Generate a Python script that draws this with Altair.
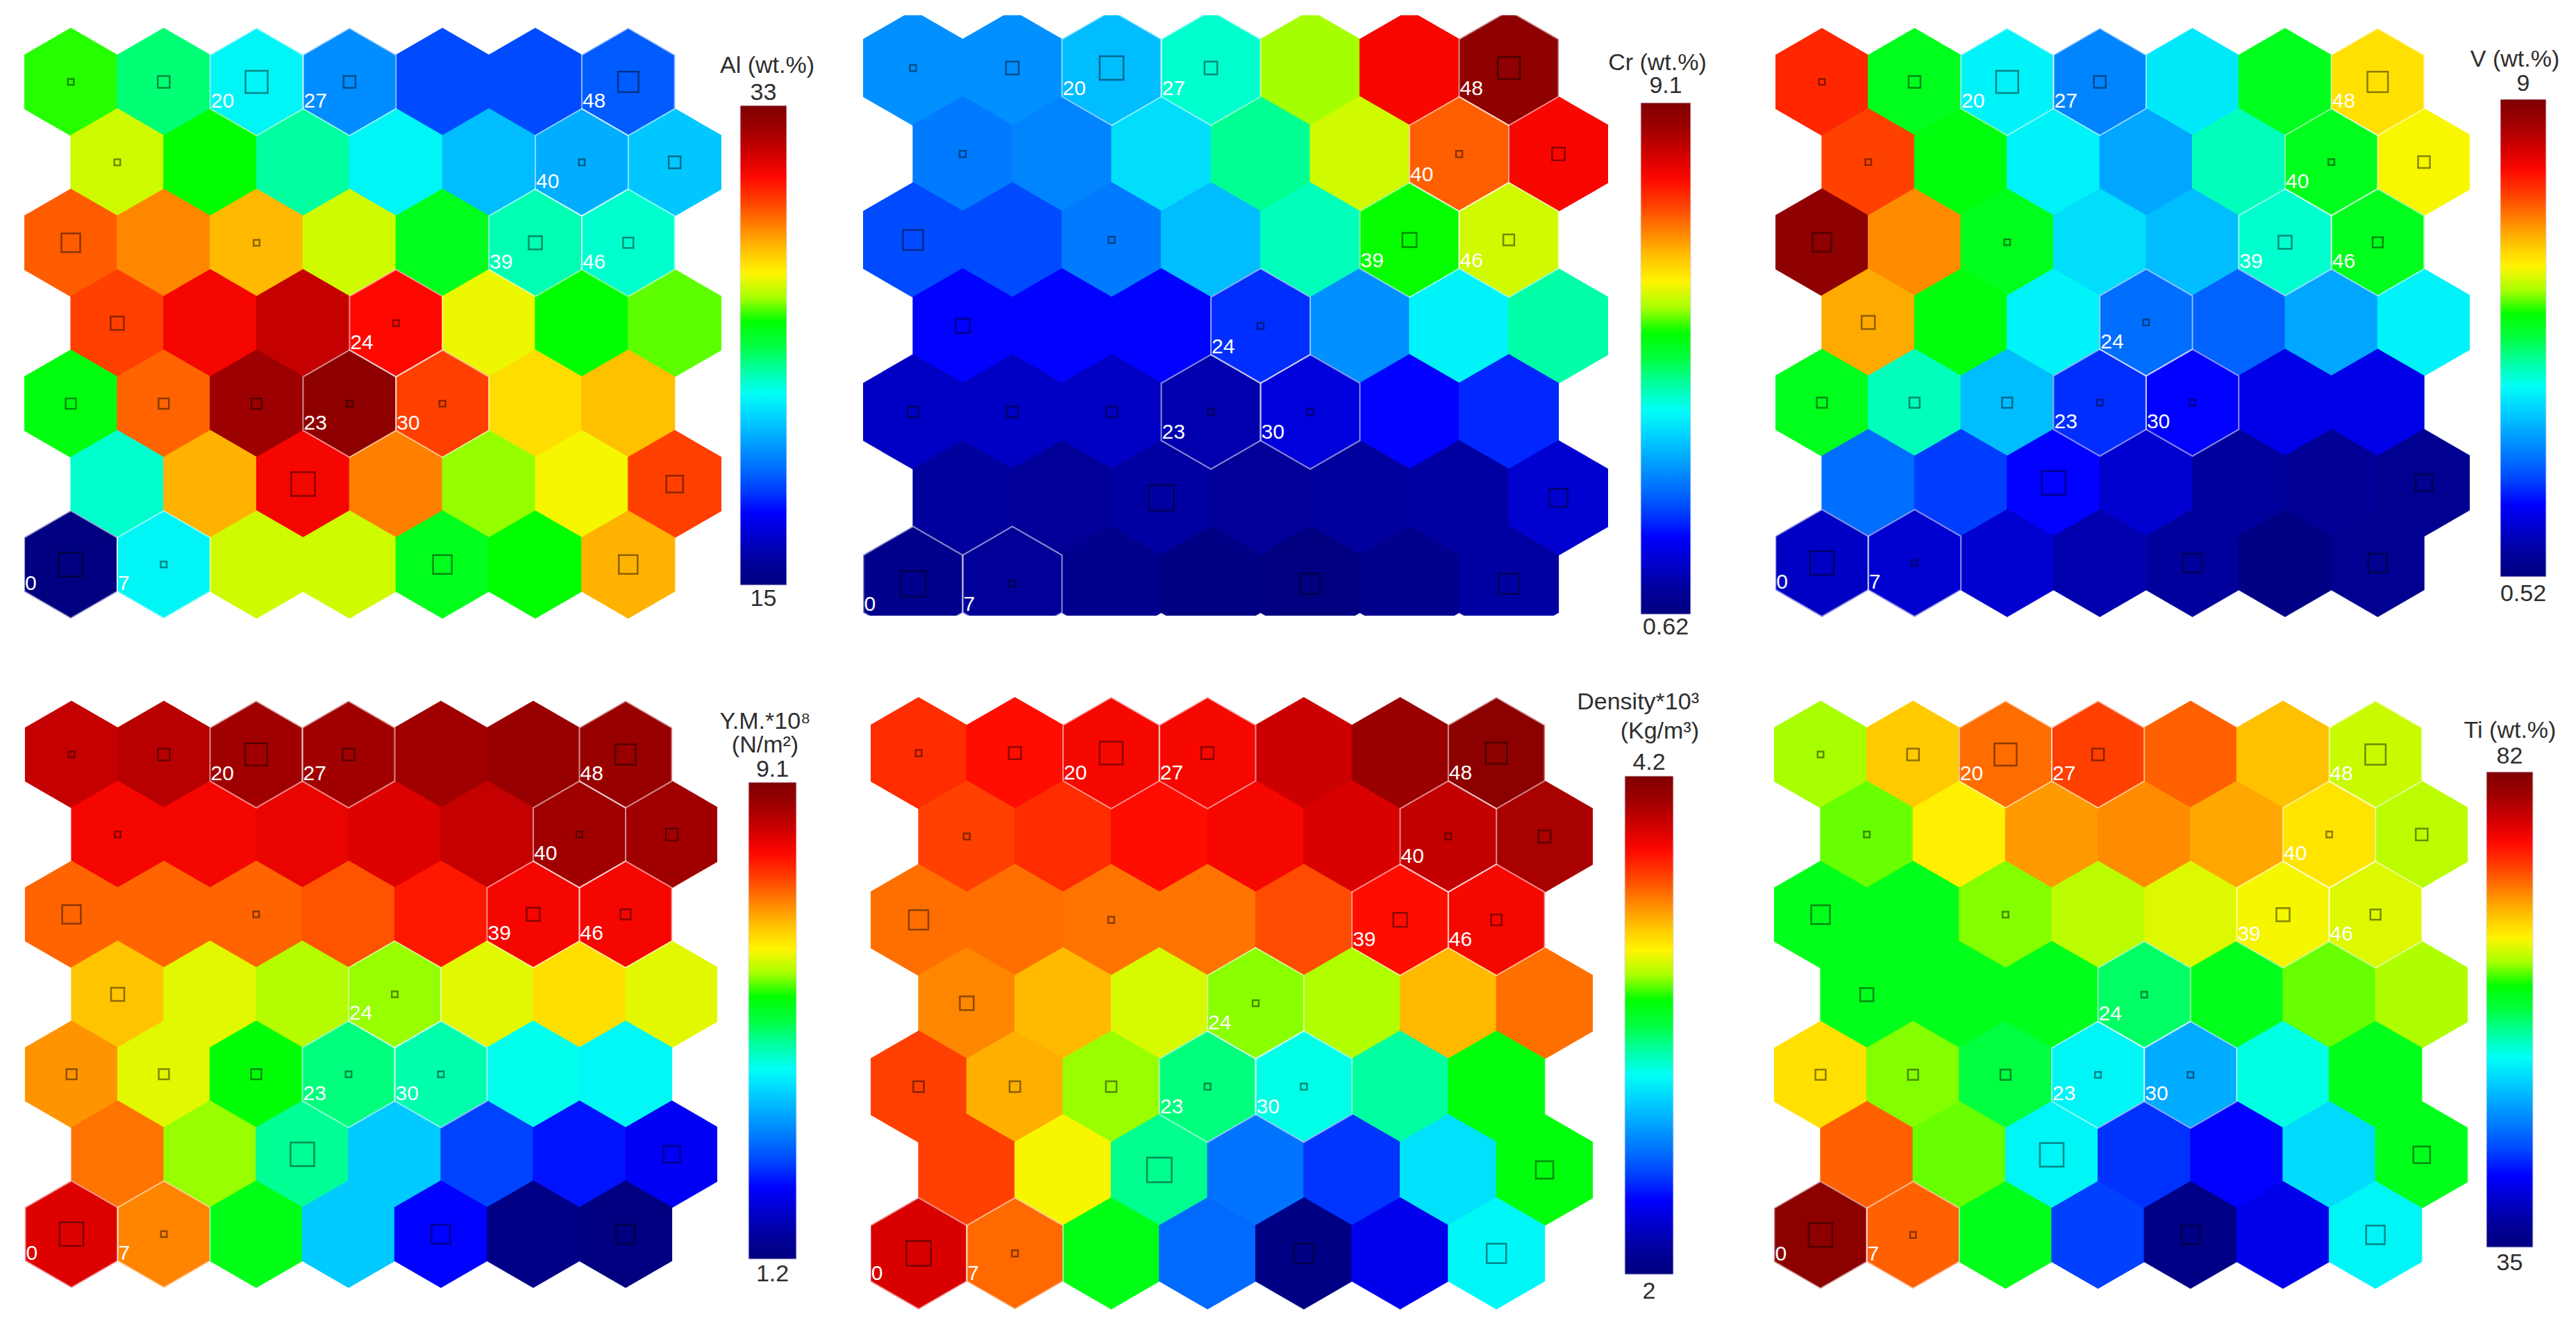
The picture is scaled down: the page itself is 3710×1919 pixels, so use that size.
import math
import altair as alt
import pandas as pd

# jet-like colour map used by all six component planes
JET = ["#000080", "#00009c", "#0000cc", "#0000ff", "#0040ff", "#0073ff", "#00a2ff",
       "#00d2ff", "#00fff5", "#00ffa0", "#00ff40", "#00ff00", "#a8ff00", "#fff500",
       "#ffc000", "#ff8000", "#ff4000", "#ff0800", "#d00000", "#a00000", "#800000"]

# component-plane values, row 0 = top row of the 7x7 hexagonal SOM
AL = [
    [25.1, 23.5, 22.0, 20.0, 18.8, 18.8, 19.1],
    [26.2, 24.9, 23.1, 22.0, 20.9, 20.6, 21.1],
    [29.0, 28.4, 27.7, 26.2, 24.5, 22.9, 22.6],
    [29.4, 30.5, 31.4, 30.3, 26.5, 24.9, 25.4],
    [24.7, 28.9, 32.2, 32.6, 29.4, 27.1, 27.6],
    [22.6, 27.8, 30.5, 28.5, 25.7, 26.6, 29.4],
    [15.0, 22.0, 26.2, 26.2, 24.5, 24.9, 27.8],
]
CR = [
    [3.0, 3.0, 3.4, 4.2, 5.7, 7.9, 8.9],
    [2.8, 2.9, 3.7, 4.5, 5.9, 7.2, 7.9],
    [2.4, 2.4, 2.8, 3.4, 4.3, 5.3, 5.9],
    [1.9, 1.9, 1.9, 2.2, 3.0, 3.9, 4.4],
    [1.4, 1.4, 1.4, 1.2, 1.6, 1.9, 2.15],
    [1.05, 1.0, 1.1, 1.0, 1.05, 1.1, 1.5],
    [0.8, 1.0, 0.8, 0.7, 0.62, 0.8, 1.1],
]
V = [
    [7.5, 5.0, 3.8, 2.8, 3.7, 5.0, 6.2],
    [7.3, 5.1, 3.8, 3.1, 4.2, 5.0, 6.0],
    [8.8, 6.8, 5.0, 3.6, 3.3, 4.1, 5.0],
    [6.6, 5.1, 3.8, 2.6, 2.5, 3.1, 3.8],
    [5.0, 4.2, 3.3, 2.1, 1.8, 1.6, 1.6],
    [2.6, 2.2, 1.8, 1.4, 0.94, 0.86, 0.77],
    [1.3, 1.4, 1.4, 1.1, 0.94, 0.6, 0.77],
]
YM = [
    [8.4, 8.5, 8.7, 8.7, 8.7, 8.8, 8.8],
    [8.0, 8.0, 8.1, 8.2, 8.4, 8.7, 8.7],
    [7.3, 7.3, 7.3, 7.4, 7.8, 8.0, 8.0],
    [6.7, 6.2, 6.0, 5.9, 6.2, 6.5, 6.2],
    [7.0, 6.2, 5.5, 4.9, 4.7, 4.4, 4.3],
    [7.2, 5.9, 4.8, 3.9, 2.8, 2.5, 2.3],
    [8.2, 7.1, 5.4, 3.9, 2.4, 1.3, 1.2],
]
DENS = [
    [3.80, 3.86, 3.89, 3.89, 3.99, 4.11, 4.16],
    [3.76, 3.80, 3.86, 3.89, 3.96, 4.01, 4.07],
    [3.68, 3.68, 3.67, 3.67, 3.74, 3.86, 3.89],
    [3.64, 3.55, 3.38, 3.30, 3.33, 3.55, 3.68],
    [3.76, 3.57, 3.31, 3.03, 2.90, 2.99, 3.19],
    [3.76, 3.42, 3.01, 2.55, 2.42, 2.81, 3.19],
    [3.96, 3.69, 3.17, 2.53, 2.02, 2.29, 2.86],
]
TI = [
    [63.2, 67.4, 71.0, 72.6, 71.4, 67.9, 64.1],
    [62.3, 65.8, 69.3, 69.8, 68.8, 66.3, 63.7],
    [59.9, 59.9, 62.7, 63.7, 64.6, 65.3, 64.6],
    [59.9, 59.9, 59.9, 57.6, 59.9, 62.3, 63.4],
    [66.5, 62.7, 58.5, 53.3, 49.6, 54.3, 59.9],
    [71.4, 62.3, 53.3, 43.9, 42.1, 51.9, 59.9],
    [81.1, 71.4, 59.9, 44.4, 35.5, 41.1, 53.3],
]
# hits per neuron (size of the hollow squares)
HITS = [
    [1, 4, 14, 4, 0, 0, 12],
    [1, 0, 0, 0, 0, 1, 4],
    [10, 0, 1, 0, 0, 5, 3],
    [5, 0, 0, 1, 0, 0, 0],
    [3, 3, 3, 1, 1, 0, 0],
    [0, 0, 16, 0, 0, 0, 8],
    [16, 1, 0, 0, 10, 0, 10],
]
LABELED = [0, 7, 20, 27, 48, 40, 39, 46, 24, 23, 30]
TITLES = [["Al (wt.%)"], ["Cr (wt.%)"], ["V (wt.%)"],
          ["Y.M.*10\u2078", "(N/m\u00b2)"], ["Density*10\u00b3", "(Kg/m\u00b3)"], ["Ti (wt.%)"]]
VMIN = [15, 0.62, 0.52, 1.2, 2, 35]
VMAX = [33, 9.1, 9, 9.1, 4.2, 82]
VALUES = [AL, CR, V, YM, DENS, TI]

HEX = "M0,-1L0.866,-0.5L0.866,0.5L0,1L-0.866,0.5L-0.866,-0.5Z"
FONT = "Liberation Sans"

# ---- layout (page pixels) ----
ROW_TOP = [22, 990]
ROW_H = [910, 914]
LAYOUT = [
    dict(cx=102, cy=118, s=133.8, L=35, W=1004, H=910, bw=204, bx0=27, bx1=94, bt=152, bb=843,
         tx=66, ta="center", nd=-18, td=-57, lg=36, bd=20),
    dict(cx=1315, cy=98, s=143.0, L=1243, W=1073, H=865, bw=241, bx0=47, bx1=119, bt=148, bb=885,
         tx=71, ta="center", nd=-24, td=-57, lg=36, bd=19),
    dict(cx=2624, cy=118, s=133.4, L=2557, W=1000, H=910, bw=140, bx0=44, bx1=110, bt=143, bb=831,
         tx=65, ta="center", nd=-22, td=-57, lg=36, bd=25),
    dict(cx=103, cy=1087, s=133.0, L=35, W=998, H=914, bw=221, bx0=45, bx1=114, bt=1127, bb=1814,
         tx=69, ta="center", nd=-18, td=-53, lg=34, bd=22),
    dict(cx=1323, cy=1085, s=138.7, L=1254, W=1040, H=914, bw=261, bx0=46, bx1=116, bt=1118, bb=1836,
         tx=153, ta="right", nd=-19, td=-64, lg=42, bd=25),
    dict(cx=2622, cy=1087, s=133.2, L=2555, W=999, H=914, bw=143, bx0=27, bx1=94, bt=1112, bb=1797,
         tx=61, ta="center", nd=-22, td=-59, lg=36, bd=23),
]

GRADIENT = {
    "gradient": "linear", "x1": 0, "y1": 1, "x2": 0, "y2": 0,
    "stops": [{"offset": k / (len(JET) - 1), "color": c} for k, c in enumerate(JET)],
}


def hex_panel(i):
    lay = LAYOUT[i]
    vals = VALUES[i]
    s = lay["s"]
    T = ROW_TOP[i // 3]
    df = pd.DataFrame([{"row": r, "col": c, "v": vals[r][c], "hits": HITS[r][c]}
                       for r in range(7) for c in range(7)])
    xs = alt.Scale(domain=[(lay["L"] - lay["cx"]) / s, (lay["L"] + lay["W"] - lay["cx"]) / s],
                   nice=False, zero=False)
    ys = alt.Scale(domain=[(T - lay["cy"]) / s, (T + lay["H"] - lay["cy"]) / s],
                   nice=False, zero=False, reverse=True)
    stops = [VMIN[i] + (VMAX[i] - VMIN[i]) * k / (len(JET) - 1) for k in range(len(JET))]
    cs = alt.Scale(domain=stops, range=JET, interpolate="rgb")
    base = alt.Chart(df).transform_calculate(
        xx="datum.col + (datum.row % 2) * 0.5",
        yy="datum.row * sqrt(3) / 2",
        idx="datum.col * 7 + 6 - datum.row",
    ).encode(
        x=alt.X("xx:Q", scale=xs, axis=None),
        y=alt.Y("yy:Q", scale=ys, axis=None),
    )
    hsize = 4 * (s / math.sqrt(3)) ** 2
    hexes = base.mark_point(shape=HEX, filled=True, opacity=1, size=hsize,
                            strokeWidth=1.2, clip=True).encode(
        color=alt.Color("v:Q", scale=cs, legend=None),
        stroke=alt.Stroke("v:Q", scale=cs, legend=None),
    )
    lab = base.transform_filter(alt.FieldOneOfPredicate(field="idx", oneOf=LABELED))
    outline = lab.mark_point(shape=HEX, filled=False, opacity=1, size=hsize, stroke="white",
                             strokeWidth=2, strokeOpacity=0.55, clip=True)
    hits = base.transform_filter("datum.hits > 0").mark_point(
        shape="square", filled=False, opacity=1, stroke="black", strokeOpacity=0.45,
        strokeWidth=2.5, clip=True).encode(
        size=alt.Size("hits:Q", scale=alt.Scale(domain=[0, 16], range=[0, 1156 * (s / 133) ** 2]),
                      legend=None))
    labels = lab.mark_text(align="left", baseline="middle", dx=-s / 2 + 1, dy=0.21 * s,
                           color="white", fontSize=30, font=FONT, clip=True).encode(text="idx:Q")
    return alt.layer(hexes, outline, hits, labels).properties(width=lay["W"], height=lay["H"])


def bar_panel(i):
    lay = LAYOUT[i]
    T = ROW_TOP[i // 3]
    H = ROW_H[i // 3]
    mn, mx = VMIN[i], VMAX[i]
    a = (lay["bt"] - T) / H
    b = (lay["bb"] - T) / H
    span = (mx - mn) / (b - a)
    top = mx + a * span
    ys = alt.Scale(domain=[top - span, top], nice=False, zero=False)
    df = pd.DataFrame({"lo": [mn], "hi": [mx]})
    base = alt.Chart(df)
    bar = base.mark_rect(fill=GRADIENT, stroke="#d8d8e8", strokeWidth=1).encode(
        x=alt.value(lay["bx0"]), x2=alt.value(lay["bx1"]),
        y=alt.Y("hi:Q", scale=ys, axis=None), y2="lo:Q")
    cx = (lay["bx0"] + lay["bx1"]) / 2
    tkw = dict(font=FONT, fontSize=34, color="#2e2e2e", baseline="middle")
    hi_t = base.mark_text(dy=lay["nd"], align="center", **tkw).encode(
        x=alt.value(cx), y=alt.Y("hi:Q", scale=ys, axis=None),
        text=alt.Text("hi:Q", format="~g"))
    lo_t = base.mark_text(dy=lay["bd"], align="center", **tkw).encode(
        x=alt.value(cx), y=alt.Y("lo:Q", scale=ys, axis=None),
        text=alt.Text("lo:Q", format="~g"))
    layers = [bar, hi_t, lo_t]
    for j, line in enumerate(reversed(TITLES[i])):
        tdf = pd.DataFrame({"hi": [mx], "t": [line]})
        layers.append(alt.Chart(tdf).mark_text(dy=lay["td"] - lay["lg"] * j, align=lay["ta"], **tkw).encode(
            x=alt.value(lay["tx"]), y=alt.Y("hi:Q", scale=ys, axis=None), text="t:N"))
    return alt.layer(*layers).properties(width=lay["bw"], height=H)


INDEP = dict(color="independent", stroke="independent", size="independent")

rows = []
for r in range(2):
    items = []
    for k in range(3):
        i = r * 3 + k
        items += [hex_panel(i), bar_panel(i)]
    rows.append(alt.hconcat(*items, spacing=0, bounds="flush").resolve_scale(**INDEP))

chart = alt.vconcat(*rows, spacing=ROW_TOP[1] - ROW_TOP[0] - ROW_H[0], bounds="full").resolve_scale(
    **INDEP
).properties(
    padding={"left": 27, "top": 14, "right": 0, "bottom": 0}
).configure_view(strokeWidth=0)

chart.save("out.html", embed_options={"renderer": "svg", "actions": False})
